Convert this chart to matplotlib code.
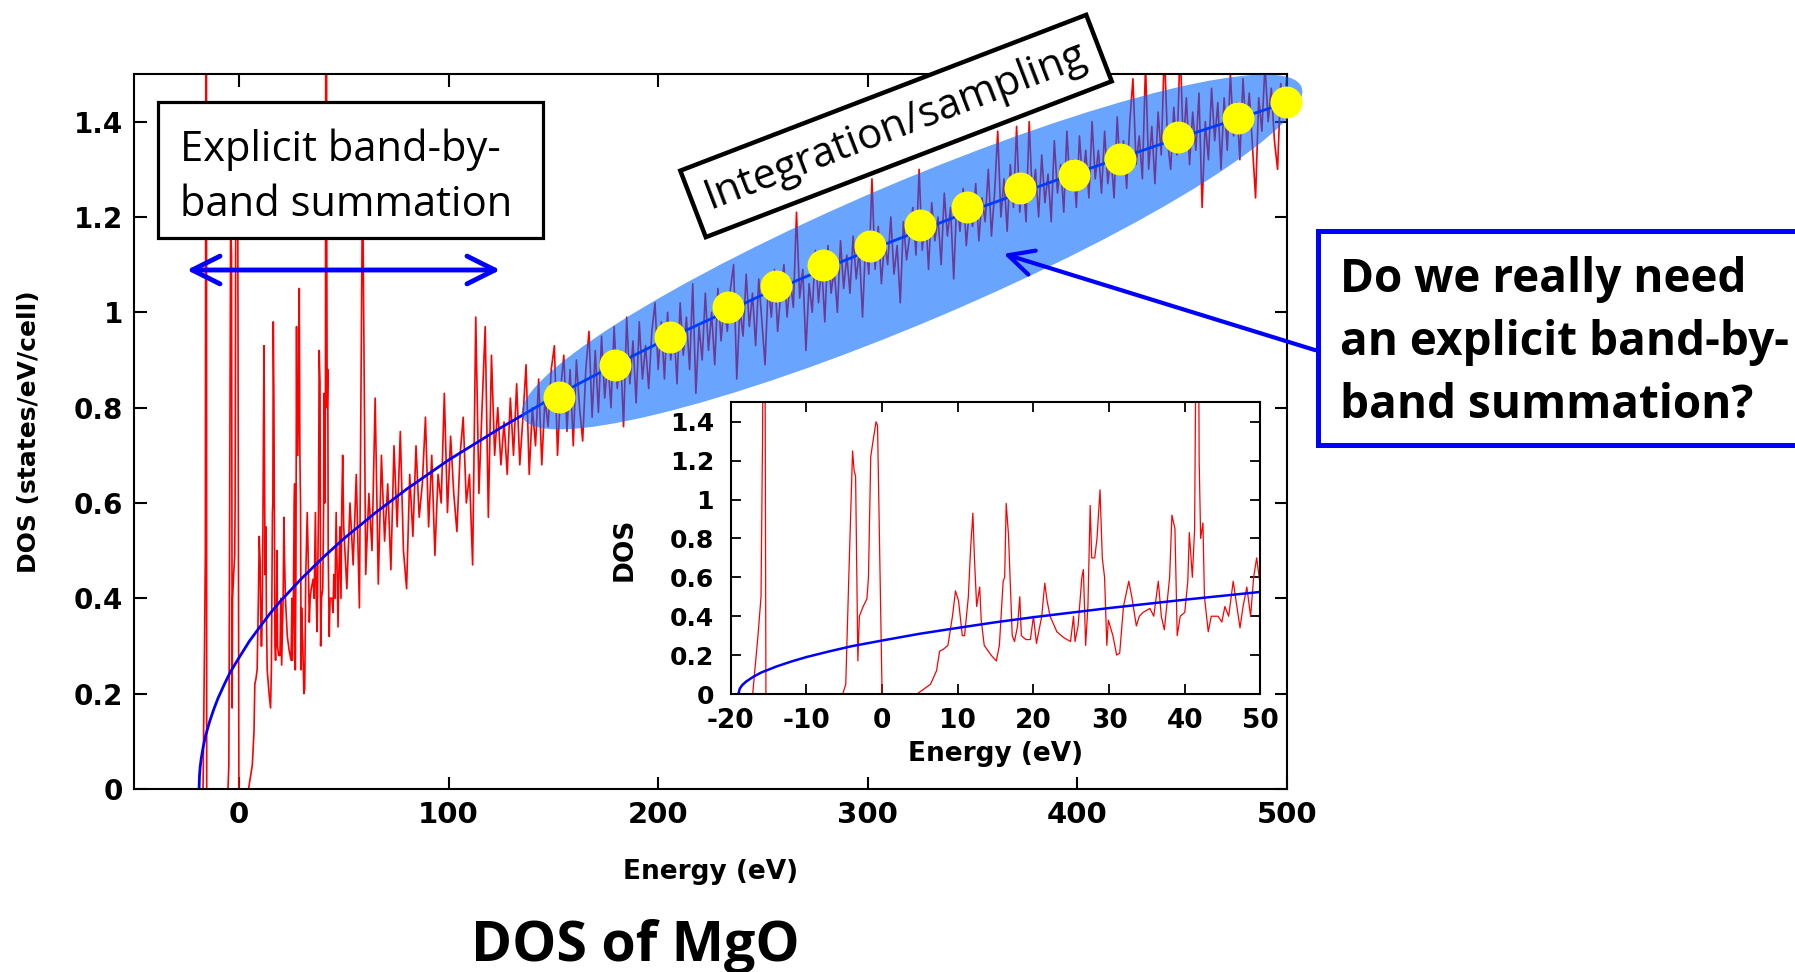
import numpy as np
import matplotlib.pyplot as plt
from matplotlib.patches import Ellipse, Rectangle, FancyArrowPatch

# DOS do MgO - parte de baixa energia lida ponto a ponto (eV, estados/eV/celula)
e_baixa = [-50, -17.1, -16.4, -16.0, -15.8, -15.55, -15.35,
           -5.2, -4.8, -4.4, -3.9, -3.7, -3.5, -3.2, -3.0, -2.5, -2.0, -1.8,
           -1.5, -1.2, -0.8, -0.6, 0.0,
           4.6, 6.4, 7.2, 7.6, 8.1, 8.7, 9.3, 9.7, 10.1, 10.6, 10.9, 11.4,
           11.7, 12.0, 12.2, 12.5, 12.9, 13.1, 13.5, 14.4, 15.1, 15.5, 16.0,
           16.2, 16.4, 16.7, 17.0, 17.2, 17.5, 17.9, 18.2, 18.4, 19.0, 19.6,
           20.0, 20.4, 20.8, 21.1, 21.5, 21.8, 22.2, 23.1, 24.0, 24.9, 25.3,
           25.5, 25.9, 26.4, 26.6, 26.9, 27.2, 27.5, 27.7, 28.1, 28.4, 28.8,
           29.1, 29.4, 29.7, 29.9, 30.5, 31.0, 31.4, 31.9, 32.6, 33.0, 33.6,
           34.0, 34.5, 35.4, 35.9, 36.5, 36.9, 37.3, 38.0, 38.3, 38.7, 39.0,
           39.4, 40.0, 40.4, 40.6, 41.0, 41.3, 41.7, 41.9, 42.1, 42.4, 42.6,
           43.1, 43.5, 44.4, 44.9, 45.3, 45.8, 46.4, 46.7, 47.3, 47.7, 48.2,
           48.7, 49.1, 49.5]
dos_baixa = [0, 0, 0.30, 0.50, 1.31, 3.0, 0,
             0, 0.05, 0.60, 1.25, 1.15, 1.12, 0.17, 0.40, 0.45, 0.49, 0.60,
             1.22, 1.30, 1.40, 1.38, 0,
             0, 0.05, 0.12, 0.22, 0.23, 0.25, 0.40, 0.53, 0.48, 0.30, 0.30, 0.50,
             0.75, 0.93, 0.70, 0.45, 0.55, 0.38, 0.25, 0.20, 0.17, 0.25, 0.58,
             0.60, 0.98, 0.82, 0.50, 0.30, 0.27, 0.35, 0.50, 0.30, 0.28, 0.28,
             0.40, 0.26, 0.34, 0.40, 0.57, 0.48, 0.40, 0.32, 0.29, 0.27, 0.40,
             0.27, 0.35, 0.60, 0.64, 0.25, 0.45, 0.97, 0.70, 0.70, 0.80, 1.05,
             0.70, 0.60, 0.25, 0.38, 0.30, 0.20, 0.21, 0.45, 0.58, 0.50, 0.35,
             0.40, 0.42, 0.44, 0.40, 0.58, 0.40, 0.33, 0.60, 0.92, 0.85, 0.30,
             0.40, 0.42, 0.58, 0.83, 0.60, 0.85, 3.0, 1.20, 0.80, 0.88, 0.50,
             0.32, 0.40, 0.40, 0.37, 0.45, 0.40, 0.58, 0.50, 0.34, 0.45, 0.55,
             0.40, 0.60, 0.70]

# energias altas: grade de 1.5 eV de 50 a 500 eV
e_alta = np.arange(50, 500.01, 1.5)
dos_alta = [
    0.55, 0.42, 0.60, 0.47, 0.66, 0.38, 1.30, 0.45, 0.62, 0.50,
    0.82, 0.43, 0.70, 0.52, 0.64, 0.46, 0.72, 0.55, 0.75, 0.50,
    0.42, 0.66, 0.53, 0.72, 0.57, 0.64, 0.78, 0.55, 0.70, 0.49,
    0.66, 0.60, 0.83, 0.58, 0.74, 0.62, 0.54, 0.70, 0.78, 0.60,
    0.66, 0.47, 0.99, 0.62, 0.80, 0.97, 0.57, 0.91, 0.70, 0.80,
    0.68, 0.77, 0.66, 0.82, 0.70, 0.85, 0.68, 0.78, 0.89, 0.66,
    0.80, 0.72, 0.86, 0.68, 0.82, 0.76, 0.88, 0.93, 0.70, 0.84,
    0.91, 0.75, 0.88, 0.72, 0.90, 0.80, 0.73, 0.88, 0.96, 0.78,
    0.92, 0.79, 0.95, 0.82, 0.90, 0.80, 0.97, 0.84, 0.92, 0.76,
    0.99, 0.85, 0.94, 0.81, 0.98, 0.86, 0.93, 0.84, 0.96, 1.02,
    0.88, 0.98, 0.86, 1.00, 0.90, 0.97, 0.85, 1.02, 0.91, 0.99,
    0.88, 1.06, 0.83, 0.97, 0.90, 1.04, 0.92, 1.00, 0.89, 1.05,
    0.94, 1.02, 0.96, 1.05, 1.10, 0.86, 1.01, 0.95, 1.08, 0.97,
    1.04, 0.93, 1.07, 0.98, 0.89, 1.06, 0.99, 1.09, 0.96, 1.04,
    1.10, 0.99, 1.07, 1.01, 1.21, 1.03, 1.09, 0.92, 1.06, 1.00,
    1.13, 1.02, 1.10, 0.98, 1.14, 1.04, 1.09, 1.00, 1.15, 1.05,
    1.12, 1.04, 1.16, 1.07, 1.13, 0.99, 1.15, 1.08, 1.28, 1.09,
    1.18, 1.06, 1.15, 1.10, 1.20, 1.08, 1.14, 1.02, 1.19, 1.11,
    1.16, 1.22, 1.12, 1.30, 1.13, 1.21, 1.09, 1.23, 1.15, 1.20,
    1.10, 1.25, 1.16, 1.22, 1.07, 1.24, 1.17, 1.26, 1.14, 1.22,
    1.18, 1.27, 1.15, 1.24, 1.19, 1.30, 1.16, 1.25, 1.38, 1.20,
    1.28, 1.17, 1.31, 1.22, 1.39, 1.21, 1.29, 1.19, 1.40, 1.24,
    1.30, 1.20, 1.33, 1.23, 1.29, 1.19, 1.36, 1.25, 1.31, 1.21,
    1.38, 1.26, 1.32, 1.22, 1.37, 1.27, 1.34, 1.24, 1.40, 1.28,
    1.34, 1.25, 1.38, 1.27, 1.33, 1.24, 1.41, 1.29, 1.36, 1.26,
    1.40, 1.49, 1.31, 1.37, 1.28, 1.52, 1.30, 1.39, 1.27, 1.42,
    1.33, 1.55, 1.36, 1.30, 1.43, 1.33, 1.56, 1.35, 1.45, 1.31,
    1.42, 1.34, 1.46, 1.22, 1.40, 1.32, 1.47, 1.36, 1.44, 1.30,
    1.45, 1.34, 1.50, 1.37, 1.44, 1.32, 1.49, 1.38, 1.46, 1.35,
    1.24, 1.45, 1.38, 1.52, 1.40, 1.47, 1.36, 1.30, 1.48, 1.42,
    1.50]

# curva azul (eletron livre)
e_livre = [-19, -18.8, -18.5, -18, -17, -16, -14, -12, -10, -7, -4, 0, 5,
           10, 15, 20, 30, 40, 50, 65, 80, 100, 125, 150, 175, 200, 250,
           300, 350, 400, 450, 500]
dos_livre = [0.0, 0.028, 0.045, 0.063, 0.089, 0.11, 0.141, 0.167, 0.19,
             0.219, 0.246, 0.275, 0.31, 0.34, 0.369, 0.395, 0.442, 0.485,
             0.525, 0.579, 0.629, 0.69, 0.758, 0.822, 0.88, 0.935, 1.037,
             1.129, 1.214, 1.293, 1.368, 1.44]

# pontos de amostragem (amarelos)
e_pontos = [152.6, 179.2, 205.6, 233.4, 256.1, 278.7, 301.2, 325.1, 347.3,
            372.6, 398.5, 420.2, 448.0, 476.5, 499.4]
dos_pontos = [0.822, 0.889, 0.948, 1.012, 1.055, 1.099, 1.139, 1.184, 1.221,
              1.260, 1.289, 1.322, 1.368, 1.407, 1.441]

energia = np.concatenate([e_baixa, e_alta])
dos = np.concatenate([dos_baixa, dos_alta])

W, H = 1795, 972
fig = plt.figure(figsize=(W / 100, H / 100), dpi=100)

# camada de anotacoes em pixels (origem no topo)
ov = fig.add_axes([0, 0, 1, 1], zorder=3)
ov.set_xlim(0, W)
ov.set_ylim(H, 0)
ov.axis('off')

# grafico principal
ax = fig.add_axes([0.0747, 0.1883, 0.6423, 0.7356], zorder=1)
ax.plot(energia, dos, color='red', lw=1.2, zorder=2)
ax.plot(e_livre, dos_livre, color='blue', lw=2, zorder=2.5)
ax.add_patch(Ellipse((912, 252), 846, 140, angle=-23, transform=ov.transData,
                     facecolor=(0, 0.4, 1), alpha=0.59, lw=0, zorder=3,
                     clip_on=False))
ax.plot(e_pontos, dos_pontos, 'o', ms=23, color='yellow', mec='none',
        zorder=4, clip_on=False)
ax.set_xlim(-50, 500)
ax.set_ylim(0, 1.5)
xt = list(range(0, 501, 100))
yt = [0, 0.2, 0.4, 0.6, 0.8, 1.0, 1.2, 1.4]
ax.set_xticks(xt, [f'{v:g}' for v in xt], fontsize=21, fontweight='bold')
ax.set_yticks(yt, [f'{v:g}' for v in yt], fontsize=20, fontweight='bold')
ax.tick_params(direction='in', top=True, right=True, length=9, width=1.5)
ax.tick_params(axis='x', pad=9)
ax.tick_params(axis='y', pad=8)
for s in ax.spines.values():
    s.set_linewidth(1.5)
ax.set_xlabel('Energy (eV)', fontsize=19, fontweight='bold', va='center')
ax.xaxis.set_label_coords(0.5, -0.116)
ax.set_ylabel('DOS (states/eV/cell)', fontsize=18, fontweight='bold',
              va='center')
ax.yaxis.set_label_coords(-0.091, 0.5)

# grafico pequeno (zoom -20 a 50 eV)
axi = fig.add_axes([0.4071, 0.286, 0.2951, 0.3001], zorder=2)
axi.plot(energia, dos, color='red', lw=0.9)
axi.plot(e_livre, dos_livre, color='blue', lw=1.8)
axi.set_xlim(-20, 50)
axi.set_ylim(0, 1.5)
xti = list(range(-20, 51, 10))
axi.set_xticks(xti, [f'{v:g}' for v in xti], fontsize=19, fontweight='bold')
axi.set_yticks(yt, [f'{v:g}' for v in yt], fontsize=18, fontweight='bold')
axi.tick_params(direction='in', top=True, right=True, length=7, width=1.3)
axi.tick_params(axis='x', pad=10)
axi.tick_params(axis='y', pad=12)
for s in axi.spines.values():
    s.set_linewidth(1.5)
axi.set_xlabel('Energy (eV)', fontsize=19, fontweight='bold', va='center')
axi.xaxis.set_label_coords(0.5, -0.206)
axi.set_ylabel('DOS', fontsize=19, fontweight='bold', va='center')
axi.yaxis.set_label_coords(-0.2, 0.495)

# anotacoes
fonte = 'Open Sans'
ov.add_patch(Rectangle((158, 102), 385, 136, fc='white', ec='black', lw=2.3))
ov.text(180, 161, 'Explicit band-by-', fontsize=30, family=fonte, va='baseline')
ov.text(180, 216, 'band summation', fontsize=30, family=fonte, va='baseline')

ov.add_patch(FancyArrowPatch((184, 270), (503, 270),
                             arrowstyle='<->,head_length=20,head_width=10',
                             lw=3.5, color='blue', mutation_scale=1))

ov.text(896, 126, 'Integration/sampling', rotation=21, rotation_mode='anchor',
        ha='center', va='center', fontsize=30, family=fonte,
        bbox=dict(boxstyle='square,pad=0.35', fc='white', ec='black', lw=3.2))

ov.add_patch(FancyArrowPatch((1318, 351), (1001, 253),
                             arrowstyle='->,head_length=18,head_width=9',
                             lw=3, color='blue', mutation_scale=1))
ov.add_patch(Rectangle((1318, 231), 520, 214, fc='white', ec='blue', lw=3.6,
                       clip_on=False))
for i, linha in enumerate(['Do we really need', 'an explicit band-by-',
                           'band summation?']):
    ov.text(1340, 292 + 63 * i, linha, fontsize=33, fontweight='bold',
            family=fonte, va='baseline')

ov.text(635, 961, 'DOS of MgO', fontsize=40, fontweight='bold', family=fonte,
        ha='center', va='baseline')

plt.savefig('out.png', dpi=100)
